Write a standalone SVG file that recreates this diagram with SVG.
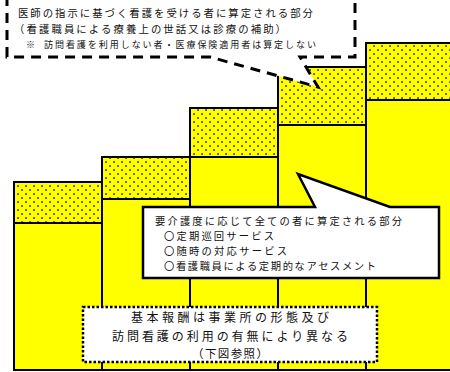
<svg xmlns="http://www.w3.org/2000/svg" width="450" height="372" viewBox="0 0 450 372">
<defs>
<pattern id="dots" width="8" height="8" patternUnits="userSpaceOnUse">
<rect width="8" height="8" fill="#ffff00"/>
<rect x="1.3" y="1.3" width="1.5" height="1.5" fill="#000"/>
<rect x="5.3" y="5.3" width="1.5" height="1.5" fill="#000"/>
</pattern>
<style>
.dot{fill:url(#dots);stroke:#000;stroke-width:2}
.sol{fill:#ffff00;stroke:#000;stroke-width:2}
.t{font-family:"Noto Sans CJK JP","Noto Sans",sans-serif;fill:#111}
.a{font-size:10.4px}
.b{font-size:10.3px}
.s{font-size:9px}
.m{font-size:12px}
.m2{font-size:11.5px}
</style>
</defs>
<rect width="450" height="372" fill="#fff"/>
<g id="col1"><rect class="sol" x="14" y="223" width="88" height="147"/><rect class="dot" x="14" y="182" width="88" height="41"/></g>
<g id="col2"><rect class="sol" x="102" y="199" width="88" height="171"/><rect class="dot" x="102" y="157" width="88" height="42"/></g>
<g id="col3"><rect class="sol" x="190" y="157" width="88" height="213"/><rect class="dot" x="190" y="108" width="88" height="49"/></g>
<g id="col4"><rect class="sol" x="278" y="125" width="88" height="245"/><rect class="dot" x="278" y="67" width="88" height="58"/></g>
<g id="col5"><rect class="sol" x="366" y="100" width="90" height="270"/><rect class="dot" x="366" y="43" width="90" height="57"/></g>
<g id="connectors"></g>
<g id="callout-medical">
<path d="M7,-6 L355,-6 L355,57 L300,57 L318,87 L210,57 L7,57 Z" fill="#fff" stroke="#000" stroke-width="3" stroke-dasharray="10 7"/>
<text class="t a" x="18" y="17.3" textLength="295" lengthAdjust="spacing">医師の指示に基づく看護を受ける者に算定される部分</text>
<text class="t a" x="14" y="33.2" textLength="272" lengthAdjust="spacing">（看護職員による療養上の世話又は診療の補助）</text>
<text class="t s" x="26" y="47.6">※</text>
<text class="t s" x="44" y="47.6" textLength="272" lengthAdjust="spacing">訪問看護を利用しない者・医療保険適用者は算定しない</text>
</g>
<g id="callout-care">
<path d="M143,207 L315,207 L298,174 L390,207 L439,207 L439,278 L143,278 Z" fill="#fff" stroke="#000" stroke-width="2.5"/>
<text class="t b" x="155" y="225" textLength="247" lengthAdjust="spacing">要介護度に応じて全ての者に算定される部分</text>
<text class="t b" x="164" y="240" textLength="110" lengthAdjust="spacing">〇定期巡回サービス</text>
<text class="t b" x="164" y="255" textLength="123" lengthAdjust="spacing">〇随時の対応サービス</text>
<text class="t b" x="164" y="270" textLength="212" lengthAdjust="spacing">〇看護職員による定期的なアセスメント</text>
</g>
<g id="basic-note">
<rect x="83" y="307" width="294" height="55" fill="#fff" stroke="#000" stroke-width="2.5" stroke-dasharray="2.5 2"/>
<text class="t m" x="230" y="322" text-anchor="middle" textLength="198" lengthAdjust="spacing">基本報酬は事業所の形態及び</text>
<text class="t m" x="230" y="340.5" text-anchor="middle" textLength="236" lengthAdjust="spacing">訪問看護の利用の有無により異なる</text>
<text class="t m2" x="230" y="357.6" text-anchor="middle" textLength="76" lengthAdjust="spacing">（下図参照）</text>
</g>
</svg>
